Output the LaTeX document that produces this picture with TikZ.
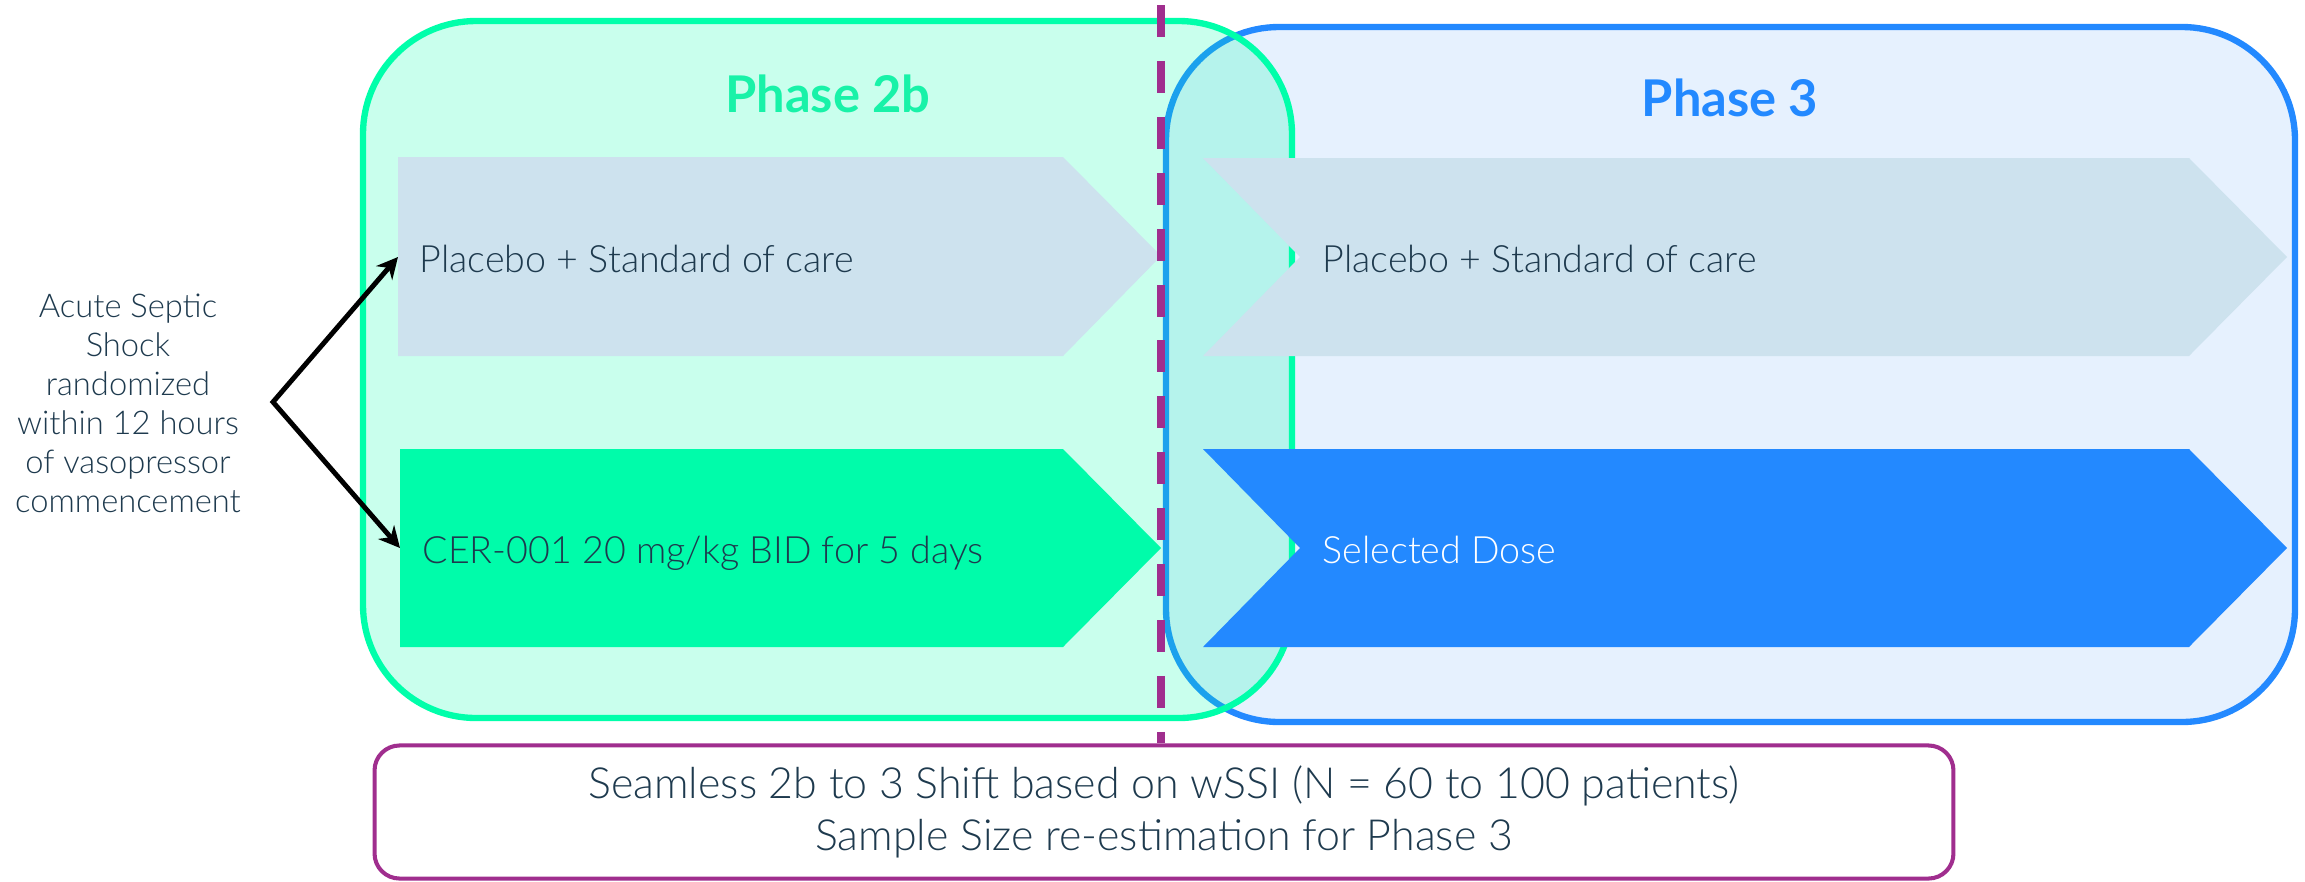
\documentclass[tikz,border=0pt]{standalone}
\usepackage{fontspec}
\IfFontExistsTF{Lato Light}{\setmainfont{Lato Light}[BoldFont={Lato Bold}]}{\setmainfont{Lato}}
\usetikzlibrary{arrows.meta}
\definecolor{mint}{HTML}{00FFAA}
\definecolor{mintfill}{HTML}{00FCAA}
\definecolor{mintdark}{HTML}{18F2A8}
\definecolor{azure}{HTML}{2389FF}
\definecolor{azurebg}{HTML}{E6F1FE}
\definecolor{greyblue}{HTML}{CDE2EE}
\definecolor{plum}{HTML}{A02E8E}
\definecolor{ink}{HTML}{1E3A4E}
\begin{document}
\begin{tikzpicture}[x=0.01cm,y=-0.01cm,
  phasebox/.style={line width=1.8pt, rounded corners=1.13cm},
  armlabel/.style={inner sep=0pt, anchor=base west, font=\fontsize{10.7}{12}\selectfont, text=ink},
  phasetitle/.style={inner sep=0pt, anchor=base, font=\fontsize{14.4}{16}\selectfont\bfseries},
  forkarrow/.style={line width=1.4pt, {Stealth[length=6pt,width=6pt]}-{Stealth[length=6pt,width=6pt]}, line join=miter},
  dashline/.style={draw=plum, line width=2.2pt, dash pattern=on 9.1pt off 6.8pt},
  shiftbox/.style={draw=plum, line width=1.15pt, rounded corners=0.25cm, fill=white, minimum width=15.78cm, minimum height=1.33cm, align=center, text=ink, font=\fontsize{12.2}{14.8}\selectfont, inner sep=0pt}
]
\useasboundingbox (0,0) rectangle (2305,881);
\fill[white] (0,0) rectangle (2305,881);
% phase boxes
\draw[phasebox, draw=azure, fill=azurebg] (1166,27) rectangle (2295,722);
\draw[phasebox, draw=mint, fill=mint, fill opacity=0.21] (363,21) rectangle (1292,718);
% arm shapes
\fill[greyblue] (398,157) -- (1063,157) -- (1161,256) -- (1063,356) -- (398,356) -- cycle;
\fill[mintfill] (400,449) -- (1063,449) -- (1161,548) -- (1063,647) -- (400,647) -- cycle;
\fill[greyblue] (1203,158) -- (2189,158) -- (2287,257) -- (2189,356) -- (1203,356) -- (1300,257) -- cycle;
\fill[azure] (1203,449) -- (2189,449) -- (2287,548) -- (2189,647) -- (1203,647) -- (1300,548) -- cycle;
\coordinate (armA) at (398,257);
\coordinate (armB) at (400,548);
% bottom box
\node[shiftbox] (shift) at (1164,812) {Seamless 2b to 3 Shift based on wSSI (N = 60 to 100 patients)\\Sample Size re-estimation for Phase 3};
% dashed divider
\coordinate (dtop) at (1161,5);
\draw[dashline] (dtop) -- (dtop |- shift.north);
% titles
\node[phasetitle, text=mintdark] (t2b) at (828,112) {Phase 2b};
\node[phasetitle, text=azure] (t3) at (1730,116) {Phase 3};
% arm labels
\node[armlabel] (l1) at (419,272) {Placebo + Standard of care};
\node[armlabel] (l2) at (422,563) {CER-001 20 mg/kg BID for 5 days};
\node[armlabel] (l3) at (1322,272) {Placebo + Standard of care};
\node[armlabel, text=white] (l4) at (1322,563) {Selected Dose};
% entry text and fork
\node[align=center, font=\fontsize{9.3}{11.1}\selectfont, text=ink, inner sep=0pt] (entry) at (128,403) {Acute Septic\\Shock\\randomized\\within 12 hours\\of vasopressor\\commencement};
\coordinate (fork) at (273,402);
\draw[forkarrow] (armA) -- (fork) -- (armB);
\end{tikzpicture}
\end{document}
